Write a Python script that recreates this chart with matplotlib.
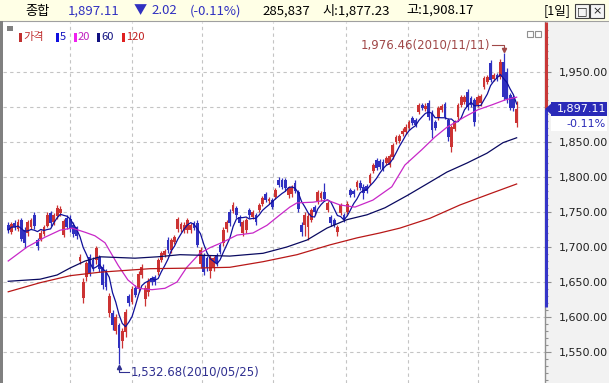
import numpy as np
import pandas as pd
import matplotlib
matplotlib.use("Agg")
import matplotlib.pyplot as plt
import matplotlib.transforms as mtransforms
from matplotlib.patches import Rectangle, Polygon

plt.rcParams['font.family'] = ['Noto Sans CJK KR', 'DejaVu Sans']

# daily candles (KOSPI composite)
opens = [1732, 1722, 1734, 1726, 1738, 1724, 1720, 1728, 1746, 1710,
         1712, 1718, 1730, 1748, 1735, 1744, 1748, 1717, 1742, 1740,
         1732, 1728, 1680, 1627, 1657, 1686, 1682, 1681, 1685, 1672,
         1665, 1606, 1606, 1580, 1588, 1566, 1578, 1630, 1622, 1642,
         1640, 1660, 1625, 1636, 1656, 1657, 1664, 1681, 1688, 1710,
         1695, 1707, 1725, 1726, 1724, 1724, 1724, 1734, 1734, 1676,
         1688, 1684, 1665, 1670, 1688, 1703, 1706, 1725, 1750, 1752,
         1756, 1743, 1720, 1724, 1753, 1743, 1746, 1753, 1762, 1775,
         1765, 1767, 1771, 1796, 1796, 1796, 1774, 1776, 1792, 1778,
         1732, 1731, 1728, 1738, 1757, 1766, 1770, 1779, 1753, 1743,
         1739, 1721, 1748, 1746, 1750, 1781, 1780, 1785, 1792, 1786,
         1787, 1791, 1809, 1824, 1823, 1822, 1820, 1817, 1829, 1850,
         1851, 1862, 1864, 1870, 1884, 1881, 1893, 1903, 1897, 1906,
         1891, 1879, 1884, 1896, 1904, 1881, 1843, 1868, 1885, 1903,
         1907, 1921, 1913, 1910, 1903, 1905, 1929, 1936, 1963, 1940,
         1946, 1943, 1964, 1950, 1917, 1914, 1877.23]
closes = [1724, 1733, 1728, 1735, 1712, 1705, 1735, 1738, 1730, 1702,
          1720, 1728, 1745, 1734, 1746, 1755, 1754, 1737, 1728, 1727,
          1718, 1716, 1686, 1650, 1677, 1662, 1670, 1698, 1668, 1645,
          1643, 1630, 1588, 1600, 1556, 1580, 1607, 1620, 1640, 1632,
          1661, 1671, 1641, 1652, 1650, 1650, 1681, 1691, 1694, 1696,
          1710, 1714, 1740, 1733, 1732, 1738, 1731, 1727, 1703, 1695,
          1664, 1670, 1684, 1684, 1677, 1693, 1724, 1735, 1734, 1760,
          1746, 1734, 1736, 1738, 1746, 1750, 1735, 1760, 1770, 1767,
          1769, 1757, 1781, 1789, 1786, 1784, 1784, 1786, 1780, 1754,
          1721, 1746, 1744, 1753, 1750, 1779, 1777, 1768, 1763, 1734,
          1731, 1729, 1760, 1739, 1762, 1774, 1775, 1793, 1784, 1777,
          1780, 1803, 1817, 1813, 1814, 1812, 1827, 1830, 1846, 1857,
          1858, 1866, 1872, 1878, 1877, 1874, 1903, 1898, 1902, 1886,
          1867, 1870, 1899, 1901, 1886, 1857, 1871, 1878, 1903, 1914,
          1914, 1900, 1903, 1878, 1914, 1916, 1941, 1943, 1939, 1946,
          1940, 1964, 1914, 1912, 1899, 1899.13, 1897.11]
highs = [1736, 1736, 1738, 1740, 1742, 1728, 1738, 1741, 1750, 1713,
         1724, 1731, 1750, 1752, 1749, 1760, 1758, 1740, 1745, 1746,
         1735, 1730, 1690, 1655, 1680, 1690, 1685, 1702, 1688, 1676,
         1668, 1634, 1610, 1604, 1592, 1584, 1612, 1633, 1644, 1645,
         1665, 1676, 1645, 1656, 1659, 1660, 1684, 1694, 1697, 1714,
         1713, 1717, 1743, 1736, 1735, 1741, 1734, 1737, 1738, 1700,
         1692, 1687, 1688, 1687, 1691, 1706, 1728, 1738, 1754, 1764,
         1759, 1746, 1739, 1741, 1756, 1753, 1749, 1763, 1773, 1778,
         1772, 1770, 1784, 1800, 1799, 1798, 1787, 1789, 1795, 1781,
         1735, 1750, 1748, 1756, 1760, 1782, 1780, 1791, 1766, 1746,
         1742, 1732, 1763, 1749, 1765, 1784, 1783, 1796, 1795, 1790,
         1790, 1806, 1820, 1827, 1826, 1825, 1830, 1833, 1849, 1860,
         1861, 1870, 1875, 1881, 1887, 1884, 1906, 1906, 1905, 1910,
         1895, 1882, 1902, 1904, 1907, 1884, 1874, 1881, 1906, 1917,
         1917, 1925, 1916, 1913, 1917, 1919, 1944, 1946, 1967, 1949,
         1949, 1968, 1976.46, 1955, 1920, 1917, 1908.17]
lows = [1720, 1719, 1724, 1723, 1708, 1698, 1716, 1725, 1726, 1696,
        1708, 1715, 1728, 1730, 1732, 1740, 1744, 1714, 1725, 1722,
        1714, 1712, 1676, 1620, 1652, 1658, 1666, 1676, 1664, 1640,
        1638, 1600, 1582, 1575, 1532.68, 1556, 1572, 1615, 1618, 1628,
        1636, 1655, 1615, 1630, 1646, 1646, 1660, 1678, 1685, 1692,
        1692, 1704, 1722, 1722, 1720, 1720, 1720, 1724, 1700, 1670,
        1660, 1666, 1655, 1666, 1673, 1690, 1702, 1722, 1730, 1748,
        1742, 1730, 1716, 1720, 1742, 1740, 1732, 1750, 1759, 1764,
        1762, 1754, 1768, 1785, 1783, 1780, 1770, 1772, 1777, 1750,
        1715, 1715, 1710, 1735, 1746, 1762, 1766, 1765, 1750, 1730,
        1728, 1716, 1745, 1736, 1747, 1771, 1772, 1782, 1781, 1768,
        1777, 1788, 1806, 1810, 1811, 1809, 1817, 1814, 1826, 1847,
        1848, 1859, 1861, 1867, 1874, 1871, 1890, 1895, 1894, 1882,
        1856, 1867, 1881, 1893, 1883, 1852, 1836, 1865, 1882, 1900,
        1904, 1896, 1900, 1873, 1900, 1902, 1926, 1933, 1935, 1937,
        1937, 1940, 1910, 1905, 1895, 1894, 1872]

# longer moving averages (candle index, value)
ma20_x = [0, 5.8, 11.3, 15.9, 19.6, 23.6, 26.6, 29.7, 33.7, 36.7, 39.8, 44.1, 48.1,
          51.8, 54.8, 58.8, 61.9, 65.9, 70.2, 75.1, 79.4, 83.4, 86.4, 88.6, 93.5,
          97.8, 101.8, 106.4, 111.9, 117.7, 121.7, 126.9, 130.9, 134.6, 140.1,
          144.1, 148.4, 152.4, 156]
ma20_y = [1680, 1700, 1714, 1724, 1727, 1721, 1716, 1706, 1674, 1653, 1641, 1639, 1641,
          1650, 1671, 1691, 1699, 1707, 1717, 1720, 1731, 1746, 1757, 1763, 1764,
          1767, 1760, 1757, 1767, 1786, 1817, 1839, 1857, 1871, 1886,
          1896, 1903, 1910, 1914]
ma60_x = [0, 9.8, 15, 19, 23.6, 28.2, 38.9, 45.9, 52.7, 68, 78.2, 85.5, 91.7, 97.8,
          103.9, 110.1, 115.6, 122.6, 128.8, 134.6, 140.8, 146.9, 151.8, 156]
ma60_y = [1651, 1654, 1660, 1670, 1680, 1686, 1684, 1686, 1689, 1687, 1691, 1700, 1710, 1727,
          1739, 1746, 1756, 1774, 1791, 1807, 1820, 1834, 1849, 1856]
ma120_x = [0, 9.8, 19, 28.2, 43.5, 58.8, 68, 78.2, 88.6, 98.7, 107, 114, 120.2, 129.4,
           138.6, 147.8, 156]
ma120_y = [1636, 1649, 1659, 1664, 1669, 1670, 1671, 1679, 1689, 1703, 1713, 1720, 1727, 1741,
           1760, 1776, 1790]

month_lines = [19.0, 38.0, 59.4, 81.2, 103.6, 122.6, 144.1]
y_ticks = [1550, 1600, 1650, 1700, 1750, 1800, 1850, 1900, 1950]

RED = '#cc3333'
BLUE = '#3030c0'

W, H = 609, 383


def fx(x):
    return x / W


def fy(y):
    return 1 - y / H


fig = plt.figure(figsize=(W / 100, H / 100), dpi=100)
fig.patch.set_facecolor('white')

# header bar (drawn under the axes)
fig.patches.append(Rectangle((0, fy(21)), 1, 21 / H, transform=fig.transFigure,
                             facecolor='#ffffe6', edgecolor='none', zorder=-10))
fig.add_artist(plt.Line2D([0, 1], [fy(21), fy(21)], color='#a0a0a0', lw=0.8))
# right price panel and left bar
fig.patches.append(Rectangle((fx(545), 0), (W - 545) / W, fy(21), transform=fig.transFigure,
                             facecolor='#f2f2f2', edgecolor='none', zorder=-10))
fig.patches.append(Rectangle((0, 0), fx(3), fy(21), transform=fig.transFigure,
                             facecolor='#808080', edgecolor='none', zorder=5))

hy = fy(11)
hdr = [(25, '종합', 'black'), (68, '1,897.11', BLUE), (134, '▼', BLUE), (151, '2.02', BLUE),
       (190, '(-0.11%)', BLUE), (262, '285,837', 'black'), (322, '시:1,877.23', 'black'),
       (406, '고:1,908.17', 'black')]
for x, s, c in hdr:
    fig.text(fx(x), hy, s, color=c, fontsize=9.5, ha='left', va='center')
fig.text(fx(571), hy, '[1일]', color='black', fontsize=9, ha='right', va='center')
for x0, s in [(575, '□'), (590, '×')]:
    fig.patches.append(Rectangle((fx(x0), fy(18)), 14 / W, 14 / H, transform=fig.transFigure,
                                 facecolor='#f4f4f4', edgecolor='#404040', lw=0.8, zorder=5))
    fig.text(fx(x0 + 7), fy(11), s, ha='center', va='center', fontsize=8,
             family=['DejaVu Sans'], color='#202020', zorder=6)

ax = fig.add_axes([fx(3), 0, (545 - 3) / W, fy(22)])
ax.set_facecolor('white')

df = pd.DataFrame({'o': opens, 'c': closes, 'h': highs, 'l': lows})
idx = np.arange(len(df))
up = df['c'] >= df['o']
cols = np.where(up, RED, BLUE)

for xv in month_lines:
    ax.axvline(xv, color='#c4c4c4', lw=0.8, ls=(0, (3, 3)), zorder=1)
for yv in y_ticks:
    ax.axhline(yv, color='#c4c4c4', lw=0.8, ls=(0, (3, 3)), zorder=1)

ax.vlines(idx, df['l'], df['h'], colors=cols, lw=0.9, zorder=3)
body = np.maximum((df['c'] - df['o']).abs(), 1.5)
ax.bar(idx, body, bottom=np.minimum(df['o'], df['c']), width=0.86, color=cols,
       linewidth=0, zorder=3)

ma5 = df['c'].rolling(5, min_periods=1).mean()
ax.plot(idx, ma5, color='#10109a', lw=0.9, zorder=4)
ax.plot(ma20_x, ma20_y, color='#c828c8', lw=0.9, zorder=4)
ax.plot(ma60_x, ma60_y, color='#0a0a60', lw=0.9, zorder=4)
ax.plot(ma120_x, ma120_y, color='#b81818', lw=0.9, zorder=4)

ax.set_xlim(-1.6, 164.7)
ax.set_ylim(1505.7, 2021.4)

# max / min labels
imax = int(np.argmax(highs))
imin = int(np.argmin(lows))
hmax, lmin = highs[imax], lows[imin]
ax.text(imax - 4, hmax + 12, f'{hmax:,.2f}(2010/11/11)', color='#a04848', fontsize=8.5,
        ha='right', va='center', family=['DejaVu Sans'])
ax.plot([imax - 3.6, imax, imax], [hmax + 12, hmax + 12, hmax + 5], color='#a04848', lw=0.8)
ax.plot([imax], [hmax + 4.5], marker='v', ms=3, color='#a04848')
ax.text(imin + 3.5, lmin - 11, f'{lmin:,.2f}(2010/05/25)', color='#303090', fontsize=8.5,
        ha='left', va='center', family=['DejaVu Sans'])
ax.plot([imin + 3.2, imin, imin], [lmin - 11, lmin - 11, lmin - 4], color='#303090', lw=0.8)
ax.plot([imin], [lmin - 3.5], marker='^', ms=3, color='#303090')

# legend row
fig.patches.append(Rectangle((fx(7), fy(31)), 6 / W, 5 / H, transform=fig.transFigure,
                             facecolor='#808080', edgecolor='none', zorder=5))
legend = [(19, '가격', '#c03030', '#c03030'), (56, '5', '#1010e0', '#1010c0'),
          (74, '20', '#f020f0', '#c020c0'), (97, '60', '#101080', '#101080'),
          (122, '120', '#e02020', '#c02020')]
for x, s, bc, tc in legend:
    fig.patches.append(Rectangle((fx(x), fy(42)), 3 / W, 9 / H, transform=fig.transFigure,
                                 facecolor=bc, edgecolor='none', zorder=5))
    fig.text(fx(x + 4), fy(37), s, color=tc, fontsize=8, ha='left', va='center')
for x0 in [527, 535]:
    fig.patches.append(Rectangle((fx(x0), fy(37)), 6 / W, 6 / H, transform=fig.transFigure,
                                 facecolor='white', edgecolor='#909090', lw=0.8, zorder=5))

# right price axis; the 1,900 label sits under the current-price box
for sp in ['top', 'left', 'bottom']:
    ax.spines[sp].set_visible(False)
ax.spines['right'].set_color('#909090')
ax.spines['right'].set_linewidth(1.0)
ax.set_xticks([])
ax.yaxis.tick_right()
ax.set_yticks(y_ticks)
ax.set_yticklabels(['' if v == 1900 else f'{v:,.2f}' for v in y_ticks])
ax.set_yticks(np.arange(1510, 2020, 10), minor=True)
ax.tick_params(axis='y', which='major', length=4, width=0.8, color='#909090', pad=6,
               labelsize=8, labelcolor='#202020')
ax.tick_params(axis='y', which='minor', length=2.5, width=0.8, color='#909090')
for lab in ax.get_yticklabels():
    lab.set_family(['DejaVu Sans'])

last = closes[-1]
tr = mtransforms.blended_transform_factory(ax.transAxes, ax.transData)
xa = lambda px: (px - 3) / (545 - 3)
ax.plot([xa(545.5), xa(545.5)], [2021.4, last], color='#c83838', lw=2.2, transform=tr,
        clip_on=False, zorder=6, solid_capstyle='butt')
ax.plot([xa(545.5), xa(545.5)], [last, 1614], color='#3535c8', lw=2.2, transform=tr,
        clip_on=False, zorder=6, solid_capstyle='butt')
ax.add_patch(Rectangle((xa(551), last - 10.5), xa(607) - xa(551), 21, transform=tr,
                       facecolor='#2a2ab8', edgecolor='none', clip_on=False, zorder=6))
ax.add_patch(Polygon([[xa(545), last], [xa(551), last + 7.5], [xa(551), last - 7.5]],
                     closed=True, transform=tr, facecolor='#2a2ab8', edgecolor='none',
                     clip_on=False, zorder=6))
ax.text(xa(606), last, f'{last:,.2f}', transform=tr, color='white', fontsize=8,
        ha='right', va='center', family=['DejaVu Sans'], zorder=7)
ax.add_patch(Rectangle((xa(551), last - 31), xa(607) - xa(551), 20.5, transform=tr,
                       facecolor='white', edgecolor='none', clip_on=False, zorder=6))
ax.text(xa(606), last - 21, '-0.11%', transform=tr, color='#2a2ab8', fontsize=8,
        ha='right', va='center', family=['DejaVu Sans'], zorder=7)

fig.savefig('out.png', dpi=100)
